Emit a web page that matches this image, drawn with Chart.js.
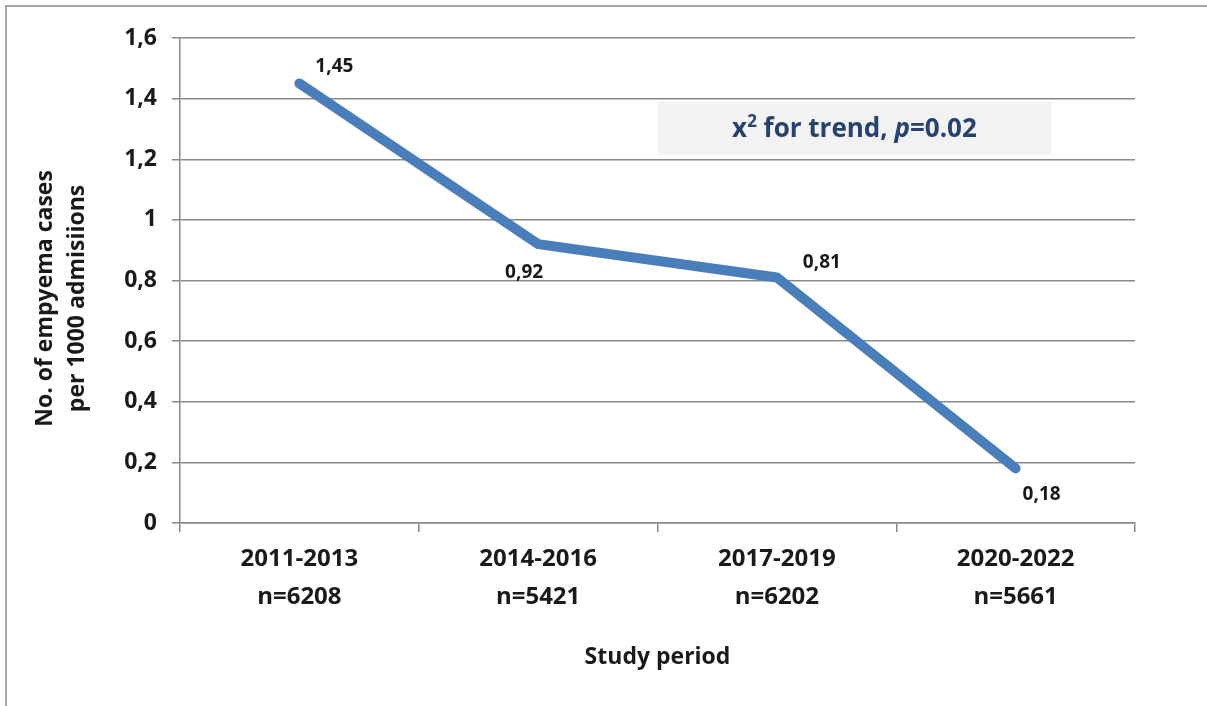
<!DOCTYPE html>
<html>
<head>
<meta charset="utf-8">
<script src="https://cdn.jsdelivr.net/npm/chart.js@4.4.1/dist/chart.umd.min.js"></script>
<style>
  html, body { margin: 0; padding: 0; background: #ffffff; overflow: hidden; }
  #wrap { position: absolute; left: 0; top: 0; width: 1207px; height: 706px; }
</style>
</head>
<body>
<div id="wrap"><canvas id="c" width="1207" height="706"></canvas></div>
<script>
// ---- Data ----
const periods = ["2011-2013", "2014-2016", "2017-2019", "2020-2022"];
const admissions = ["n=6208", "n=5421", "n=6202", "n=5661"];
const casesPer1000 = [1.45, 0.92, 0.81, 0.18];
const valueLabels = ["1,45", "0,92", "0,81", "0,18"];
const yTicks = [0, 0.2, 0.4, 0.6, 0.8, 1, 1.2, 1.4, 1.6];
const yTickLabels = ["0", "0,2", "0,4", "0,6", "0,8", "1", "1,2", "1,4", "1,6"];
const yTitle = ["No. of empyema cases", "per 1000 admisiions"];
const xTitle = "Study period";
const trendNote = { pre: "x", sup: "2", mid: " for trend, ", ital: "p", post: "=0.02" };

// ---- Style (label offsets relative to each point, in px) ----
const labelOffsets = [[35, -17], [-14, 28], [45, -15], [26, 26]];
const FONT = "'Open Sans', 'DejaVu Sans', sans-serif";

const gridColor = "#8a8a8a";
const textColor = "#1a1a1a";

const outerBorder = {
  id: "outerBorder",
  beforeDraw(chart) {
    const ctx = chart.ctx;
    ctx.save();
    ctx.fillStyle = "#ffffff";
    ctx.fillRect(0, 0, chart.width, chart.height);
    ctx.strokeStyle = "#a6a6a6";
    ctx.lineWidth = 2;
    ctx.strokeRect(6, 6, chart.width + 20, chart.height + 20);
    ctx.restore();
  }
};

// shifts the rotated y title a little toward the bottom, like the reference
const yTitleShift = {
  id: "yTitleShift",
  beforeDraw(chart) {}
};

const trendBox = {
  id: "trendBox",
  beforeDatasetsDraw(chart) {
    const { ctx, scales: { x, y } } = chart;
    const x0 = x.getPixelForValue(1.5);
    const x1 = x.getPixelForValue(3.15);
    const y0 = y.getPixelForValue(1.39);
    const y1 = y.getPixelForValue(1.215);
    ctx.save();
    ctx.fillStyle = "#f2f2f2";
    ctx.fillRect(x0, y0, x1 - x0, y1 - y0);
    const big = "bold 26px " + FONT;
    const small = "bold 17px " + FONT;
    const ital = "italic bold 26px " + FONT;
    ctx.textBaseline = "alphabetic";
    const parts = [
      { t: trendNote.pre, f: big, dy: 0 },
      { t: trendNote.sup, f: small, dy: -10 },
      { t: trendNote.mid, f: big, dy: 0 },
      { t: trendNote.ital, f: ital, dy: 0 },
      { t: trendNote.post, f: big, dy: 0 }
    ];
    let total = 0;
    parts.forEach(p => { ctx.font = p.f; p.w = ctx.measureText(p.t).width; total += p.w; });
    let cx = (x0 + x1) / 2 - total / 2;
    const base = (y0 + y1) / 2 + 9;
    ctx.fillStyle = "#25436e";
    parts.forEach(p => { ctx.font = p.f; ctx.fillText(p.t, cx, base + p.dy); cx += p.w; });
    ctx.restore();
  }
};

const pointLabels = {
  id: "pointLabels",
  afterDatasetsDraw(chart) {
    const { ctx } = chart;
    const meta = chart.getDatasetMeta(0);
    ctx.save();
    ctx.font = "bold 19px " + FONT;
    ctx.fillStyle = textColor;
    ctx.textAlign = "center";
    ctx.textBaseline = "middle";
    meta.data.forEach((pt, i) => {
      const [dx, dy] = labelOffsets[i];
      ctx.fillText(valueLabels[i], pt.x + dx, pt.y + dy);
    });
    ctx.restore();
  }
};

new Chart(document.getElementById("c"), {
  type: "line",
  data: {
    labels: periods.map((p, i) => [p, admissions[i]]),
    datasets: [{
      data: casesPer1000,
      borderColor: "#4a7ebb",
      borderWidth: 10,
      borderCapStyle: "round",
      borderJoinStyle: "round",
      pointRadius: 0,
      pointHoverRadius: 0,
      tension: 0,
      fill: false
    }]
  },
  options: {
    responsive: false,
    animation: false,
    events: [],
    layout: { padding: { left: 0, right: 72, top: 38, bottom: 0 } },
    plugins: { legend: { display: false }, tooltip: { enabled: false } },
    scales: {
      x: {
        offset: true,
        afterFit(s) { s.height = 183; },
        grid: { offset: true, drawOnChartArea: false, drawTicks: true, tickLength: 9, color: gridColor, lineWidth: 1.5 },
        border: { display: true, color: gridColor, width: 1.5 },
        ticks: {
          color: textColor,
          font: { family: FONT, size: 24, weight: "bold", lineHeight: 1.55 },
          padding: 9,
          maxRotation: 0
        },
        title: {
          display: true,
          text: xTitle,
          color: textColor,
          font: { family: FONT, size: 23, weight: "bold", lineHeight: 1.3 },
          padding: { top: 0, bottom: 34 }
        }
      },
      y: {
        min: 0,
        max: 1.6,
        afterFit(s) { s.width = 180; },
        afterBuildTicks(s) { s.ticks = yTicks.map(v => ({ value: v })); },
        grid: { drawOnChartArea: true, drawTicks: true, tickLength: 8, color: gridColor, lineWidth: 1.5 },
        border: { display: true, color: gridColor, width: 1.5 },
        ticks: {
          color: textColor,
          font: { family: FONT, size: 23, weight: "bold" },
          padding: 15,
          callback(v) { const i = yTicks.indexOf(v); return i >= 0 ? yTickLabels[i] : ""; }
        },
        title: {
          display: true,
          text: yTitle.map(t => t + "      "),
          color: textColor,
          font: { family: FONT, size: 23, weight: "bold", lineHeight: 1.39 },
          padding: { top: 29, bottom: 0 }
        }
      }
    }
  },
  plugins: [outerBorder, trendBox, pointLabels]
});
</script>
</body>
</html>
